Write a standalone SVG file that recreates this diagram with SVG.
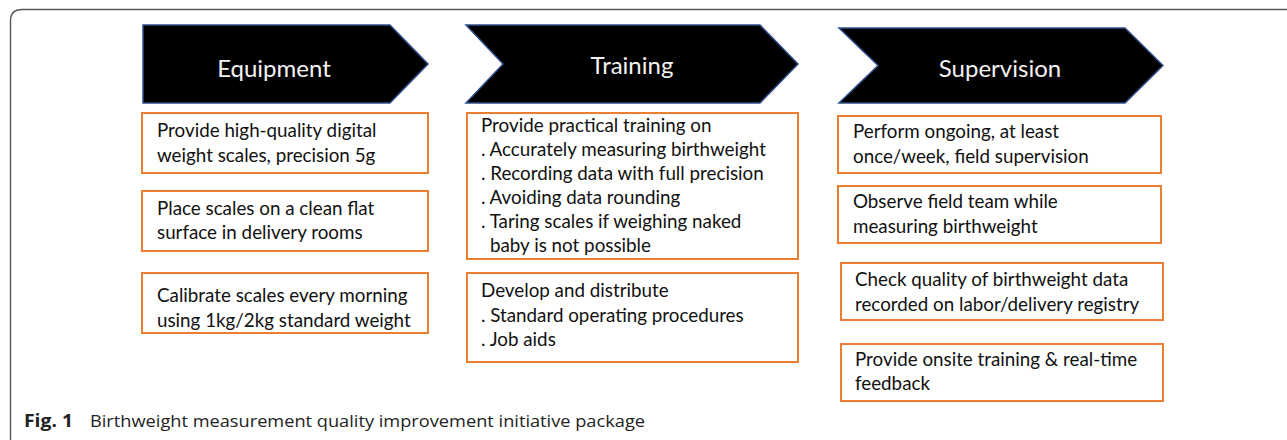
<svg xmlns="http://www.w3.org/2000/svg" width="1287" height="440" viewBox="0 0 1287 440">
<style>
.hdr{fill:#000;stroke:#2f4f8a;stroke-width:1.5}
.ht{font-family:Lato,"Open Sans",sans-serif;font-size:24px;fill:#f2f2f2;text-anchor:middle}
.box{fill:#fff;stroke:#ed7d31;stroke-width:2}
.t{font-family:Lato,"Open Sans",sans-serif;font-size:18.8px;fill:#111}
.cap{font-family:"Open Sans",sans-serif;font-size:17px;fill:#222}
</style>
<rect width="1287" height="440" fill="#fff"/>
<path d="M10.5,440 V21 Q10.5,9.5 22,9.5 H1287" fill="none" stroke="#555" stroke-width="1.4"/>
<g id="equipment">
<polygon class="hdr" points="143,25 390,25 428,64 390,103 143,103"/>
<text class="ht" x="274" y="77">Equipment</text>
</g>
<g id="training">
<polygon class="hdr" points="466,25 760,25 798,64 760,103 466,103 503,64"/>
<text class="ht" x="632" y="74">Training</text>
</g>
<g id="supervision">
<polygon class="hdr" points="839,28 1125,28 1163,65.5 1125,103 839,103 878,65.5"/>
<text class="ht" x="1000" y="77">Supervision</text>
</g>
<g id="eq1"><rect class="box" x="142" y="113" width="286" height="60"/>
<text class="t" x="157" y="137">Provide high-quality digital</text><text class="t" x="157" y="162">weight scales, precision 5g</text></g>
<g id="eq2"><rect class="box" x="142" y="191" width="286" height="60"/>
<text class="t" x="157" y="215">Place scales on a clean flat</text><text class="t" x="157" y="239">surface in delivery rooms</text></g>
<g id="eq3"><rect class="box" x="142" y="273" width="286" height="60"/>
<text class="t" x="157" y="302">Calibrate scales every morning</text><text class="t" x="157" y="327">using 1kg/2kg standard weight</text></g>
<g id="tr1"><rect class="box" x="467" y="113" width="331" height="146"/>
<text class="t" x="481" y="132">Provide practical training on</text>
<text class="t" x="481" y="156">. Accurately measuring birthweight</text>
<text class="t" x="481" y="180">. Recording data with full precision</text>
<text class="t" x="481" y="204">. Avoiding data rounding</text>
<text class="t" x="481" y="228">. Taring scales if weighing naked</text>
<text class="t" x="490" y="252">baby is not possible</text></g>
<g id="tr2"><rect class="box" x="467" y="273" width="331" height="89"/>
<text class="t" x="481" y="297">Develop and distribute</text>
<text class="t" x="481" y="322">. Standard operating procedures</text>
<text class="t" x="481" y="346">. Job aids</text></g>
<g id="su1"><rect class="box" x="838" y="116" width="323" height="57"/>
<text class="t" x="853" y="138">Perform ongoing, at least</text><text class="t" x="853" y="163">once/week, field supervision</text></g>
<g id="su2"><rect class="box" x="838" y="186" width="323" height="57"/>
<text class="t" x="853" y="208">Observe field team while</text><text class="t" x="853" y="233">measuring birthweight</text></g>
<g id="su3"><rect class="box" x="841" y="263" width="322" height="57"/>
<text class="t" x="855" y="286">Check quality of birthweight data</text><text class="t" x="855" y="311">recorded on labor/delivery registry</text></g>
<g id="su4"><rect class="box" x="841" y="344" width="322" height="57"/>
<text class="t" x="855" y="366">Provide onsite training &amp; real-time</text><text class="t" x="855" y="390">feedback</text></g>
<g id="connectors"></g>
<text class="cap" x="24" y="427" font-weight="bold" textLength="49" lengthAdjust="spacingAndGlyphs">Fig. 1</text>
<text class="cap" x="90" y="427" textLength="555" lengthAdjust="spacingAndGlyphs">Birthweight measurement quality improvement initiative package</text>
</svg>
